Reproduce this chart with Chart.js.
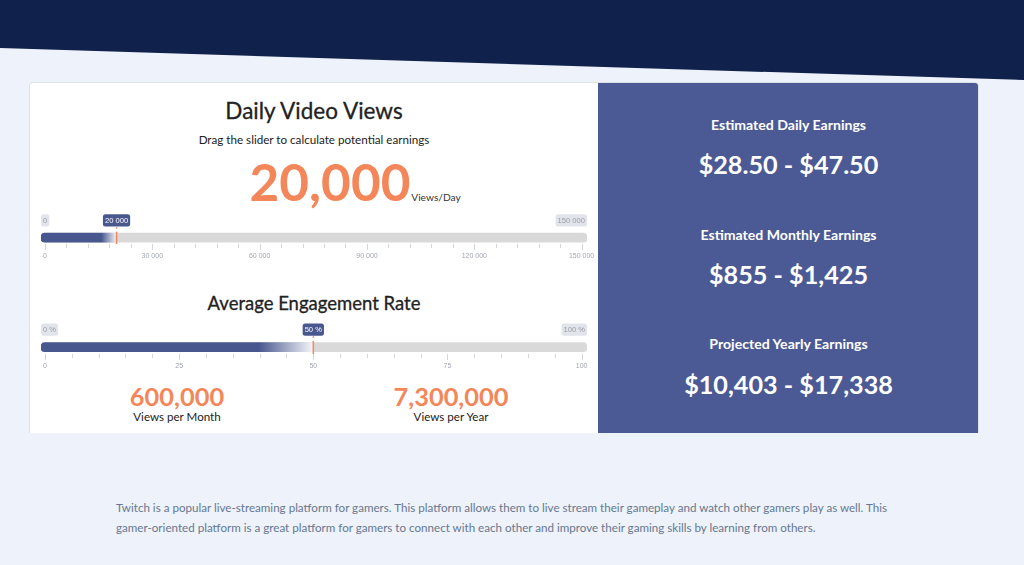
<!DOCTYPE html>
<html><head><meta charset="utf-8">
<script src="https://cdn.jsdelivr.net/npm/chart.js@4"></script>
<style>
html,body{margin:0;padding:0;width:1024px;height:565px;overflow:hidden;background:#eef2fb;font-family:Lato,sans-serif}
#hero{position:absolute;left:0;top:0;width:1024px;height:80px;background:#10214b;clip-path:polygon(0 0,1024px 0,1024px 80px,0 48px)}
#card{position:absolute;left:29px;top:82px;width:948px;height:350px;border:1px solid #dfe1e8;border-bottom:0;border-radius:4px 4px 0 0;background:#fff;overflow:hidden}
#side{position:absolute;left:568px;top:0;width:381px;height:351px;background:#4b5a94}
.t{position:absolute;white-space:nowrap;transform:translate(-50%,-50%);line-height:1}
.w{color:#fff;font-weight:700}
.o{color:#f4875a;font-weight:700}
.m{-webkit-text-stroke:.3px currentColor}
canvas{position:absolute;left:21px}
#note{position:absolute;left:116px;top:498px;width:800px;font-size:11.62px;line-height:20px;color:#66788f;white-space:nowrap}
</style></head><body>
<div id="hero"></div>
<div id="card"><div id="side"></div></div>
<div class="t m" style="left:314px;top:110.5px;font-size:22.5px;color:#222">Daily Video Views</div>
<div class="t" style="left:314px;top:139.5px;font-size:11.65px;color:#222">Drag the slider to calculate potential earnings</div>
<div class="t o" style="left:330px;top:181.5px;font-size:51.3px">20,000</div>
<div class="t" style="left:436px;top:196.5px;font-size:10.2px;color:#333">Views/Day</div>
<div class="t m" style="left:314px;top:302.5px;font-size:18.5px;color:#222">Average Engagement Rate</div>
<div class="t o" style="left:177px;top:396.5px;font-size:25.4px">600,000</div>
<div class="t" style="left:177px;top:417px;font-size:11.6px;color:#222">Views per Month</div>
<div class="t o" style="left:451px;top:396.5px;font-size:25.4px">7,300,000</div>
<div class="t" style="left:451px;top:417px;font-size:11.6px;color:#222">Views per Year</div>
<div class="t w" style="left:788.5px;top:125px;font-size:14.1px">Estimated Daily Earnings</div>
<div class="t w" style="left:788.5px;top:165px;font-size:25.2px">$28.50 - $47.50</div>
<div class="t w" style="left:788.5px;top:235px;font-size:14.1px">Estimated Monthly Earnings</div>
<div class="t w" style="left:788.5px;top:275px;font-size:25.2px">$855 - $1,425</div>
<div class="t w" style="left:788.5px;top:344px;font-size:14.1px">Projected Yearly Earnings</div>
<div class="t w" style="left:788.5px;top:385px;font-size:25.2px">$10,403 - $17,338</div>
<div id="note">Twitch is a popular live-streaming platform for gamers. This platform allows them to live stream their gameplay and watch other gamers play as well. This<br>gamer-oriented platform is a great platform for gamers to connect with each other and improve their gaming skills by learning from others.</div>
<canvas id="views" width="586" height="60" style="top:205px"></canvas>
<canvas id="rate" width="586" height="60" style="top:315px"></canvas>
<script>
const viewsRange = [0, 150000];
const viewsValue = [20000];
const viewsMajorTicks = [0, 30000, 60000, 90000, 120000, 150000];
const viewsMinorTicks = [6000, 12000, 18000, 24000, 36000, 42000, 48000, 54000, 66000, 72000, 78000, 84000, 96000, 102000, 108000, 114000, 126000, 132000, 138000, 144000];
const rateRange = [0, 100];
const rateValue = [50];
const rateMajorTicks = [0, 25, 50, 75, 100];
const rateMinorTicks = [5, 10, 15, 20, 30, 35, 40, 45, 55, 60, 65, 70, 80, 85, 90, 95];

const fmt = v => String(v).replace(/\B(?=(\d{3})+$)/g, ' ');
const bubbleFont = '7.6px "Liberation Sans"';

function roundBubble(ctx, text, x, y, h, fill, color) {
  ctx.font = bubbleFont;
  const w = ctx.measureText(text).width + 4;
  ctx.fillStyle = fill;
  ctx.beginPath();
  ctx.roundRect(x, y, w, h, 2.5);
  ctx.fill();
  ctx.fillStyle = color;
  ctx.textAlign = 'center';
  ctx.textBaseline = 'middle';
  ctx.fillText(text, x + w / 2, y + h / 2 + .3);
  return w;
}

function slider(id, range, value, major, minor, unit, topPad) {
  const span = range[1] - range[0];
  const lo = range[0] - span * 4 / 536.6;
  const hi = range[1] + span * 5.4 / 536.6;
  new Chart(document.getElementById(id), {
    type: 'bar',
    data: {
      labels: [''],
      datasets: [
        {
          data: [[lo, value[0]]],
          order: 0,
          grouped: false,
          barThickness: 9,
          borderRadius: {topLeft: 4, bottomLeft: 4, topRight: 0, bottomRight: 0},
          borderSkipped: false,
          backgroundColor: c => {
            const sc = c.chart.scales.x;
            const a = sc ? sc.getPixelForValue(lo) : NaN, b = sc ? sc.getPixelForValue(value[0]) : NaN;
            if (!Number.isFinite(a) || !Number.isFinite(b)) return '#49578f';
            const g = c.chart.ctx.createLinearGradient(a, 0, b, 0);
            g.addColorStop(0, '#49578f');
            g.addColorStop(.8, '#49578f');
            g.addColorStop(1, '#f5f6fa');
            return g;
          }
        },
        {
          data: [[lo, hi]],
          order: 1,
          grouped: false,
          barThickness: 9,
          borderRadius: 4,
          borderSkipped: false,
          backgroundColor: '#d9d9d9'
        }
      ]
    },
    options: {
      indexAxis: 'y',
      responsive: false,
      animation: false,
      events: [],
      devicePixelRatio: 1,
      layout: {padding: {left: 20, right: 20, top: topPad, bottom: 0}},
      plugins: {legend: {display: false}, tooltip: {enabled: false}},
      scales: {
        y: {display: false},
        x: {
          type: 'linear',
          position: 'bottom',
          min: lo,
          max: hi,
          afterBuildTicks: s => { s.ticks = major.map(v => ({value: v})); },
          afterFit: s => { s.height = 21; },
          border: {display: false},
          grid: {display: false, drawTicks: false},
          ticks: {
            autoSkip: false,
            maxRotation: 0,
            padding: 7.5,
            color: '#a2a6b2',
            font: {family: '"Liberation Sans"', size: 7},
            callback: v => fmt(v)
          }
        }
      }
    },
    plugins: [{
      id: 'sliderMarks',
      afterDraw(chart) {
        const {ctx, chartArea: a, scales: {x}} = chart;
        ctx.save();
        ctx.lineWidth = 1;
        ctx.strokeStyle = '#d4d6dc';
        const tick = (v, len) => {
          const p = Math.round(x.getPixelForValue(v)) + .5;
          ctx.beginPath(); ctx.moveTo(p, a.bottom); ctx.lineTo(p, a.bottom + len); ctx.stroke();
        };
        major.forEach(v => tick(v, 6));
        minor.forEach(v => tick(v, 4));
        const vx = x.getPixelForValue(value[0]);
        ctx.strokeStyle = '#f4875a';
        ctx.lineWidth = 1.5;
        ctx.beginPath(); ctx.moveTo(vx, a.top + .5); ctx.lineTo(vx, a.bottom); ctx.stroke();
        ctx.beginPath(); ctx.moveTo(vx, a.top - 4); ctx.lineTo(vx, a.top - 2.5); ctx.stroke();
        const by = a.top - 17, bh = 12.4;
        const L = x.getPixelForValue(lo), R = x.getPixelForValue(hi);
        roundBubble(ctx, fmt(range[0]) + unit, L, by, bh, '#e1e4ea', '#9a9da6');
        ctx.font = bubbleFont;
        const maxText = fmt(range[1]) + unit;
        roundBubble(ctx, maxText, R - ctx.measureText(maxText).width - 4, by, bh, '#e1e4ea', '#9a9da6');
        const valText = fmt(value[0]) + unit;
        ctx.font = bubbleFont;
        const vw = ctx.measureText(valText).width + 4;
        roundBubble(ctx, valText, vx - vw / 2, by, bh, '#49578f', '#ffffff');
        ctx.restore();
      }
    }]
  });
}
slider('views', viewsRange, viewsValue, viewsMajorTicks, viewsMinorTicks, '', 26.2);
slider('rate', rateRange, rateValue, rateMajorTicks, rateMinorTicks, ' %', 25.4);
</script>
</body></html>
